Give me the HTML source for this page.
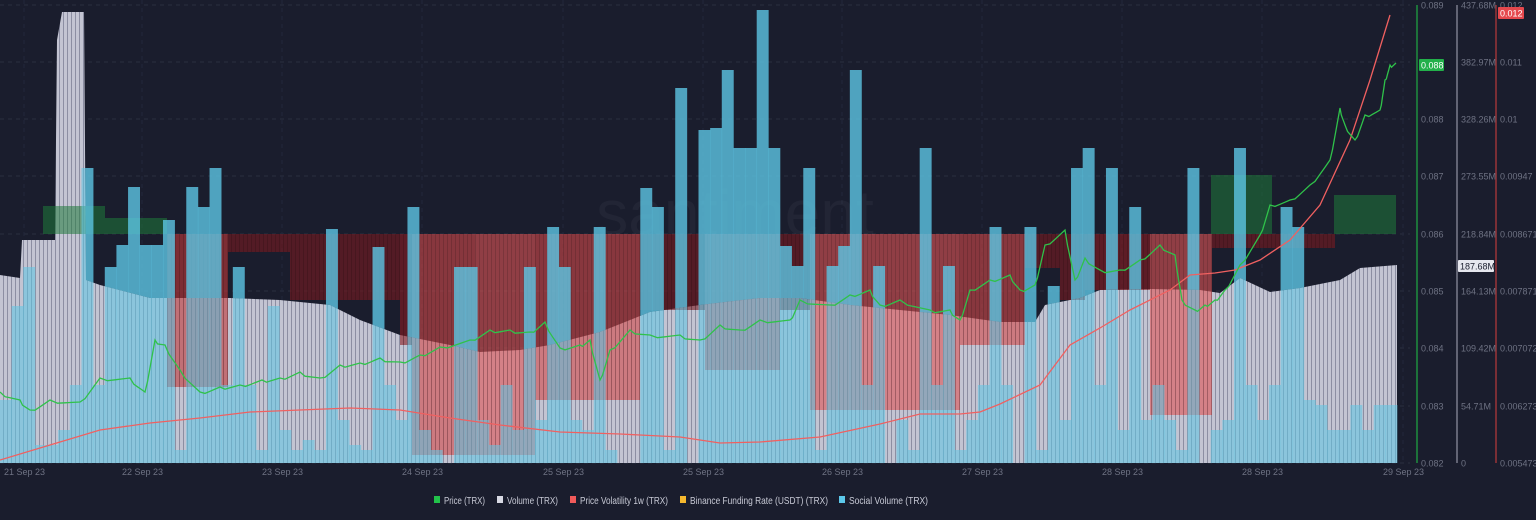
<!DOCTYPE html>
<html><head><meta charset="utf-8"><style>
html,body{margin:0;padding:0;background:#1a1d2d;}
body{width:1536px;height:520px;overflow:hidden;font-family:"Liberation Sans",sans-serif;}
</style></head><body>
<svg id="c" width="1536" height="520" xmlns="http://www.w3.org/2000/svg" style="position:absolute;left:0;top:0">
<defs>
<pattern id="vs" width="4" height="10" patternUnits="userSpaceOnUse"><rect width="4" height="10" fill="#c3c4d2"/><rect x="3" width="1" height="10" fill="#8c8ea2"/></pattern>
<pattern id="rs" width="4" height="10" patternUnits="userSpaceOnUse"><rect width="4" height="10" fill="#000" fill-opacity="0"/><rect x="3" width="1" height="10" fill="#000" fill-opacity="0.15"/></pattern>
<clipPath id="inV"><path id="inVp" d=""/></clipPath>
<clipPath id="outV"><path id="outVp" d=""/></clipPath>
</defs>
<rect width="1536" height="520" fill="#1a1d2d"/>
<g id="grid"></g>
<text x="735" y="235" font-size="64" fill="#ffffff" fill-opacity="0.04" text-anchor="middle" font-family="Liberation Sans, sans-serif">santiment</text>
<g id="vol"></g>
<g id="green"></g>
<g id="red"></g>
<g id="soc" clip-path="url(#outV)" fill-opacity="0.8"></g>
<g id="soc2" clip-path="url(#inV)" fill-opacity="0.55"></g>
<g id="lines"></g>
<g id="axes"></g>
</svg>
<script>
var NS="http://www.w3.org/2000/svg";
function el(p,t,a){var e=document.createElementNS(NS,t);for(var k in a)e.setAttribute(k,a[k]);document.getElementById(p).appendChild(e);return e;}
var ticks=[5,62,119,176,234,291,348,406,463];
ticks.forEach(function(y){el('grid','line',{x1:0,x2:1410,y1:y,y2:y,stroke:'#2a2e40','stroke-dasharray':'4 4','stroke-width':1});});
var dx=[4,122,262,402,543,683,822,962,1102,1242,1383];
dx.forEach(function(x){el('grid','line',{x1:x+20,x2:x+20,y1:0,y2:463,stroke:'#23273a','stroke-dasharray':'4 4'});});
var vp=[[0,275],[20,278],[22,240],[55,240],[57,40],[62,12],[84,12],[86,280],[100,285],[150,298],[230,298],[280,300],[330,305],[360,320],[400,335],[450,345],[480,352],[520,350],[550,345],[600,332],[650,312],[700,305],[760,298],[800,298],[850,305],[900,310],[950,315],[1000,322],[1035,322],[1045,305],[1080,298],[1100,290],[1150,289],[1200,290],[1220,293],[1240,278],[1270,292],[1300,288],[1340,280],[1360,268],[1397,265]];
var line=vp.map(function(p){return 'L'+p[0]+','+p[1]}).join(' ');
var d='M0,463 '+line+' L1397,463 Z';
el('vol','path',{d:d,fill:'url(#vs)'});
document.getElementById('inVp').setAttribute('d',d);
var rev=vp.slice().reverse().map(function(p){return 'L'+p[0]+','+p[1]}).join(' ');
document.getElementById('outVp').setAttribute('d','M0,0 L1400,0 L1400,463 L1397,463 '+rev+' Z');
[[43,105,206],[105,167,218],[1211,1272,175],[1334,1396,195]].forEach(function(r){el('green','rect',{x:r[0],y:r[2],width:r[1]-r[0],height:234-r[2],fill:'#1f7a3a','fill-opacity':0.55});});
var rs=[[167,228,387,'#c03838'],[228,290,252,'#7a1a1f'],[290,400,300,'#7a1a1f'],[400,412,345,'#8a1d22'],[412,475,455,'#d24a4a'],[475,535,455,'#e05555'],[535,640,400,'#d24a4a'],[640,705,310,'#7a1a1f'],[705,780,370,'#d24a4a'],[780,810,310,'#7a1a1f'],[810,960,410,'#e05555'],[960,1025,345,'#d24a4a'],[1025,1060,268,'#7a1a1f'],[1060,1085,300,'#7a1a1f'],[1085,1150,290,'#8a1d22'],[1150,1212,415,'#e05555'],[1212,1335,248,'#7a1a1f']];
rs.forEach(function(r){el('red','rect',{x:r[0],y:234,width:r[1]-r[0],height:r[2]-234,fill:r[3],'fill-opacity':0.6});el('red','rect',{x:r[0],y:234,width:r[1]-r[0],height:r[2]-234,fill:'url(#rs)'});});
var s=[365,306,267,380,380,345,300,168,300,267,245,187,245,245,220,400,187,207,168,300,267,300,400,306,350,400,360,400,229,330,380,400,247,300,330,207,350,400,420,267,267,330,380,300,345,267,330,227,267,330,350,227,400,420,420,188,207,400,88,420,130,128,70,148,148,10,148,246,266,168,400,266,246,70,300,266,420,330,400,148,300,266,400,330,300,227,300,420,227,400,286,330,168,148,300,168,350,207,330,300,330,400,168,420,350,330,148,300,330,300,207,227,305,365,385,385,405,385,405,405];
var map={300:385,305:400,330:420,345:430,350:430,360:440,365:400,380:445,385:430,400:450,420:463};
var w=1397/120;
s.forEach(function(t,i){if(map[t])t=map[t];if(i>=113)t=Math.max(t,405);
 var a={x:(i*w).toFixed(2),y:t,width:(w+0.3).toFixed(2),height:463-t,fill:'#5cc6e3'};
 el('soc','rect',a);el('soc2','rect',a);});
var g=[[0,392],[20,400],[30,410],[50,400],[80,402],[100,378],[130,378],[145,392],[155,340],[165,345],[180,370],[200,392],[220,387],[240,385],[262,380],[280,378],[300,372],[320,378],[340,365],[360,363],[380,358],[400,362],[420,355],[440,347],[470,340],[490,330],[510,330],[530,332],[545,322],[560,348],[580,345],[590,340],[600,380],[610,350],[630,330],[650,335],[680,335],[700,340],[720,325],[740,330],[760,320],[790,320],[800,300],[830,305],[850,295],[870,290],[880,305],[900,300],[930,310],[950,310],[960,320],[970,290],[990,280],[1010,275],[1020,290],[1035,285],[1045,245],[1065,230],[1075,280],[1085,258],[1100,270],[1120,270],[1140,260],[1160,245],[1175,255],[1182,300],[1195,310],[1205,305],[1215,300],[1225,290],[1240,265],[1260,235],[1270,205],[1290,200],[1310,185],[1330,160],[1340,108],[1345,125],[1355,140],[1365,115],[1380,110],[1385,80],[1390,65],[1396,63]];
var r=[[0,460],[50,445],[100,430],[150,423],[200,418],[250,412],[300,410],[350,408],[400,410],[450,418],[500,425],[560,432],[620,434],[680,437],[720,443],[760,442],[820,437],[880,424],[920,414],[960,414],[980,412],[1000,404],[1040,385],[1070,345],[1100,328],[1130,310],[1170,290],[1190,275],[1215,273],[1235,270],[1260,260],[1290,240],[1320,205],[1350,140],[1370,80],[1390,15]];
function jit(a){var o=[];for(var i=0;i<a.length-1;i++){var p=a[i],q=a[i+1];for(var k=0;k<4;k++){var t=k/4;o.push([p[0]+(q[0]-p[0])*t,p[1]+(q[1]-p[1])*t+(k?((i*7+k*13)%7-3)*0.9:0)]);}}o.push(a[a.length-1]);return o;}
function pl(a){return a.map(function(p){return p[0].toFixed(1)+','+p[1].toFixed(1)}).join(' ');}
el('lines','polyline',{points:pl(r),fill:'none',stroke:'#f06060','stroke-width':1.3});
el('lines','polyline',{points:pl(jit(g)),fill:'none',stroke:'#2fc24a','stroke-width':1.3});
el('axes','line',{x1:1417,x2:1417,y1:5,y2:463,stroke:'#1e8f3e','stroke-width':1.5});
el('axes','line',{x1:1457,x2:1457,y1:5,y2:463,stroke:'#7a7c8c','stroke-width':1.5});
el('axes','line',{x1:1496,x2:1496,y1:5,y2:463,stroke:'#9a3538','stroke-width':1.5});
var l1=['0.089','0.088','0.088','0.087','0.086','0.085','0.084','0.083','0.082'];
var l2=['437.68M','382.97M','328.26M','273.55M','218.84M','164.13M','109.42M','54.71M','0'];
var l3=['0.012','0.011','0.01','0.00947','0.008671','0.007871','0.007072','0.006273','0.005473'];
ticks.forEach(function(y,i){
 if(i!=1)el('axes','text',{x:1421,y:y+3.5,'font-size':9,fill:'#6e7283'}).textContent=l1[i];
 el('axes','text',{x:1461,y:y+3.5,'font-size':9,fill:'#6e7283'}).textContent=l2[i];
 el('axes','text',{x:1500,y:y+3.5,'font-size':9,fill:'#6e7283'}).textContent=l3[i];
});
el('axes','rect',{x:1419,y:59,width:25,height:12,fill:'#22b04a',rx:1});
el('axes','text',{x:1421,y:68.5,'font-size':9,fill:'#fff'}).textContent='0.088';
el('axes','rect',{x:1458,y:260,width:36,height:12,fill:'#e6e7ee',rx:1});
el('axes','text',{x:1460,y:269.5,'font-size':9,fill:'#1a1d2d'}).textContent='187.68M';
el('axes','rect',{x:1498,y:7,width:26,height:12,fill:'#e5484d',rx:1});
el('axes','text',{x:1500,y:16.5,'font-size':9,fill:'#fff'}).textContent='0.012';
var dl=['21 Sep 23','22 Sep 23','23 Sep 23','24 Sep 23','25 Sep 23','25 Sep 23','26 Sep 23','27 Sep 23','28 Sep 23','28 Sep 23','29 Sep 23'];
dx.forEach(function(x,i){el('axes','text',{x:x,y:475,'font-size':9,fill:'#6e7283'}).textContent=dl[i];});
var lg=[[434,'#22c24a','Price (TRX)',41],[497,'#d8d9e4','Volume (TRX)',51],[570,'#f05a5a','Price Volatility 1w (TRX)',88],[680,'#f5b82e','Binance Funding Rate (USDT) (TRX)',138],[839,'#5cc8ea','Social Volume (TRX)',79]];
lg.forEach(function(l){el('axes','rect',{x:l[0],y:496,width:6,height:7,fill:l[1]});el('axes','text',{x:l[0]+10,y:504,'font-size':10.5,fill:'#c8cad6',textLength:l[3],lengthAdjust:'spacingAndGlyphs'}).textContent=l[2];});
</script>
</body></html>
